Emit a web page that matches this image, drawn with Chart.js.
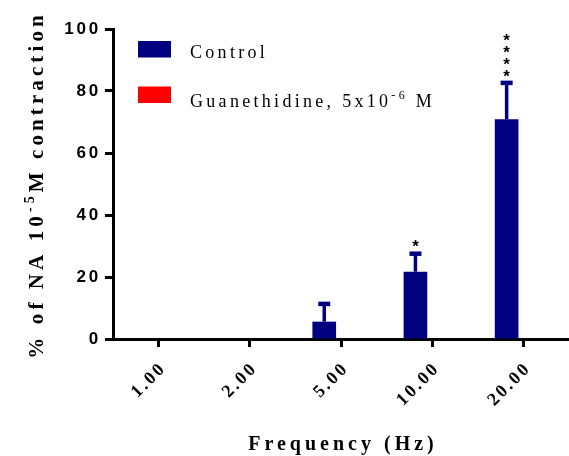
<!DOCTYPE html>
<html>
<head>
<meta charset="utf-8">
<script src="https://cdn.jsdelivr.net/npm/chart.js@4.4.0/dist/chart.umd.min.js"></script>
<style>
  html, body { margin: 0; padding: 0; background: #fff; }
  #wrap { width: 569px; height: 456px; }
</style>
</head>
<body>
<div id="wrap"><canvas id="chart"></canvas></div>
<script>
// Stimulation frequencies and contraction responses (mean + SEM)
const frequencies = ['1.00', '2.00', '5.00', '10.00', '20.00'];
const controlMean = [0, 0, 5.6, 21.7, 70.9];
const controlSem = [0, 0, 5.8, 5.9, 11.8];
const guanethidineMean = [0, 0, 0, 0, 0];
const guanethidineSem = [0, 0, 0, 0, 0];
const significance = ['', '', '', '*', '****'];
const yTicks = [0, 20, 40, 60, 80, 100];

const seriesLabels = ['Control', 'Guanethidine, 5x10^{-6} M'];
const yTitle = '% of NA 10^{-5}M contraction';
const xTitle = 'Frequency (Hz)';

const SERIF = '"Liberation Serif", "Times New Roman", serif';
const SANS = '"Liberation Sans", Arial, sans-serif';

// split "abc^{sup}def" into plain / superscript runs
function richParts(str) {
  const parts = [];
  const re = /\^\{([^}]*)\}/g;
  let last = 0, m;
  while ((m = re.exec(str))) {
    if (m.index > last) parts.push({ text: str.slice(last, m.index), sup: false });
    parts.push({ text: m[1], sup: true });
    last = re.lastIndex;
  }
  if (last < str.length) parts.push({ text: str.slice(last), sup: false });
  return parts;
}

function drawRich(ctx, str, x, y, opt) {
  const parts = richParts(str);
  const fontFor = p => `${opt.weight} ${p.sup ? Math.round(opt.size * 0.65) : opt.size}px ${opt.family}`;
  ctx.letterSpacing = opt.spacing + 'px';
  let total = 0;
  parts.forEach(p => {
    ctx.font = fontFor(p);
    p.w = ctx.measureText(p.text).width;
    total += p.w;
  });
  let cx = opt.align === 'center' ? x - (total - opt.spacing) / 2 : x;
  ctx.textAlign = 'left';
  ctx.textBaseline = 'alphabetic';
  parts.forEach(p => {
    ctx.font = fontFor(p);
    ctx.fillText(p.text, cx, p.sup ? y - opt.size * 0.42 : y);
    cx += p.w;
  });
}

// tick labels are drawn letter-spaced
const tickSpacing = {
  id: 'tickSpacing',
  afterLayout(chart) {
    [['x', 2.5], ['y', 2.8]].forEach(([id, spacing]) => {
      const scale = chart.scales[id];
      const base = Object.getPrototypeOf(scale).drawLabels;
      scale.drawLabels = function (area) {
        this.ctx.save();
        this.ctx.letterSpacing = spacing + 'px';
        base.call(this, area);
        this.ctx.restore();
      };
    });
  }
};

// upper SEM bars plus significance stars
const errorBars = {
  id: 'errorBars',
  afterDatasetsDraw(chart) {
    const ctx = chart.ctx;
    const y = chart.scales.y;
    const sems = [controlSem, guanethidineSem];
    chart.data.datasets.forEach((ds, di) => {
      const meta = chart.getDatasetMeta(di);
      meta.data.forEach((bar, i) => {
        const sem = sems[di][i];
        if (!sem) return;
        const top = y.getPixelForValue(ds.data[i] + sem);
        ctx.save();
        ctx.strokeStyle = ds.backgroundColor;
        ctx.fillStyle = ds.backgroundColor;
        ctx.lineWidth = 3.5;
        ctx.beginPath();
        ctx.moveTo(bar.x, bar.y);
        ctx.lineTo(bar.x, top);
        ctx.stroke();
        ctx.fillRect(bar.x - 6, top - 2, 12, 4.5);
        ctx.restore();
        if (di === 0 && significance[i]) {
          ctx.save();
          ctx.fillStyle = '#000';
          ctx.font = `bold 17px ${SANS}`;
          ctx.textAlign = 'center';
          ctx.textBaseline = 'alphabetic';
          const stars = significance[i].split('');
          stars.forEach((s, k) => {
            ctx.fillText(s, bar.x, top - 11 - k * 12 + 10);
          });
          ctx.restore();
        }
      });
    });
  }
};

// axis titles and the in-plot legend
const annotations = {
  id: 'annotations',
  afterDraw(chart) {
    const ctx = chart.ctx;
    const area = chart.chartArea;
    ctx.save();
    ctx.fillStyle = '#000';

    ctx.save();
    ctx.translate(43, (area.top + area.bottom) / 2 + 3);
    ctx.rotate(-Math.PI / 2);
    drawRich(ctx, yTitle, 0, 0, { weight: 'bold', size: 21, family: SERIF, spacing: 4.1, align: 'center' });
    ctx.restore();

    drawRich(ctx, xTitle, (area.left + area.right) / 2, 450,
      { weight: 'bold', size: 20, family: SERIF, spacing: 4, align: 'center' });

    const rowTop = [41, 86.5];
    const baselines = [58, 106.5];
    chart.data.datasets.forEach((ds, i) => {
      ctx.fillStyle = ds.backgroundColor;
      ctx.fillRect(138, rowTop[i], 33, 16.5);
      ctx.fillStyle = '#000';
      drawRich(ctx, seriesLabels[i], 190, baselines[i],
        { weight: 'normal', size: 18, family: SERIF, spacing: 3.3, align: 'left' });
    });
    ctx.restore();
  }
};

new Chart(document.getElementById('chart'), {
  type: 'bar',
  data: {
    labels: frequencies,
    datasets: [
      {
        label: 'Control',
        data: controlMean,
        backgroundColor: '#000080',
        categoryPercentage: 0.735,
        barPercentage: 0.706
      },
      {
        label: 'Guanethidine',
        data: guanethidineMean,
        backgroundColor: '#ff0000',
        categoryPercentage: 0.735,
        barPercentage: 0.706
      }
    ]
  },
  options: {
    responsive: true,
    maintainAspectRatio: false,
    animation: false,
    layout: { padding: { top: 29, right: -7, left: 0, bottom: 0 } },
    plugins: {
      legend: { display: false },
      tooltip: { enabled: false }
    },
    scales: {
      x: {
        offset: true,
        afterFit: s => { s.height = 117; },
        grid: {
          offset: false,
          drawOnChartArea: false,
          drawTicks: true,
          tickLength: 8,
          tickWidth: 3,
          tickColor: '#000'
        },
        border: { display: true, color: '#000', width: 3 },
        ticks: {
          maxRotation: 45,
          minRotation: 45,
          padding: 11,
          labelOffset: 5,
          color: '#000',
          font: { family: SERIF, size: 18, weight: 'bold' }
        }
      },
      y: {
        min: 0,
        max: 100,
        afterFit: s => { s.width = 113; },
        afterBuildTicks: s => { s.ticks = yTicks.map(v => ({ value: v })); },
        grid: {
          drawOnChartArea: false,
          drawTicks: true,
          tickLength: 8,
          tickWidth: 3,
          tickColor: '#000'
        },
        border: { display: true, color: '#000', width: 3 },
        ticks: {
          padding: 4,
          color: '#000',
          font: { family: SANS, size: 17, weight: 'bold' }
        }
      }
    }
  },
  plugins: [tickSpacing, errorBars, annotations]
});
</script>
</body>
</html>
